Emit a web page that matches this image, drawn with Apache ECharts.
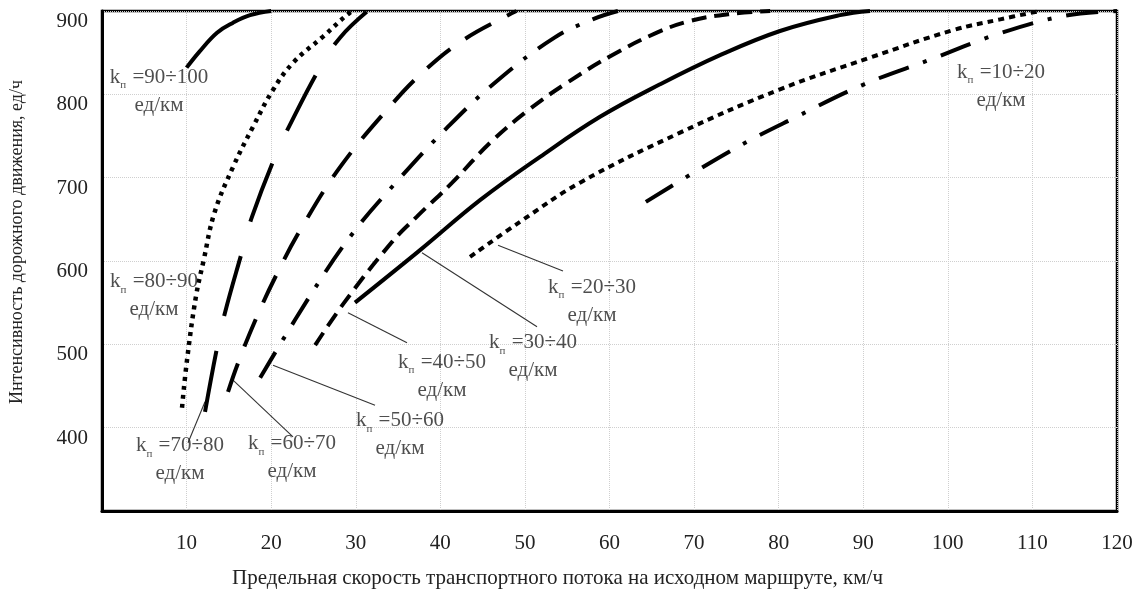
<!DOCTYPE html>
<html>
<head>
<meta charset="utf-8">
<script src="https://cdn.jsdelivr.net/npm/echarts@6/dist/echarts.min.js"></script>
<style>html,body{margin:0;padding:0;background:#fff}#c{width:1138px;height:596px}</style>
</head>
<body>
<div id="c"></div>
<script>
// ---- data (x: km/h, y: veh/h) ----
const xTicks = [10,20,30,40,50,60,70,80,90,100,110,120];
const yTicks = [400,500,600,700,800,900];
const k90_100 = [[10,832],[11.5,851],[13.6,874],[15.5,886],[17.5,895],[20,900]];
const k80_90  = [[9.46,424],[10.05,481],[11.1,557],[12.0,600],[13.3,658],[15.5,713],[17.85,761],[20.2,805],[22.6,838],[26.1,869],[29.3,898],[30,900]];
const k70_80  = [[12.18,419],[13.6,496],[14.54,538],[16.55,611],[17.73,653],[20.45,725],[22.2,763],[25.77,832],[28.14,868],[31.3,899]];
const k60_70  = [[14.9,443],[16.1,478],[18.3,533],[20.8,587],[23.6,640],[28.1,712],[34,785],[38.2,829],[42.7,865],[48,895],[49,900]];
const k50_60  = [[18.7,460],[24.9,563],[29.7,634],[35,697],[40.8,760],[46.8,817],[53.5,868],[58,890],[61,900]];
const k40_50  = [[25.2,499],[28.7,551],[34.3,623],[37.2,653],[41.4,694],[45.9,742],[50.4,781],[55,814],[60.3,847],[65.6,874],[69.5,888],[74,896],[79,900]];
const k30_40  = [[29.91,550],[37.6,613],[44.69,673],[51.79,725],[58.88,773],[65.97,812],[73.07,847],[80.16,876],[87.25,895],[90.8,900]];
const k20_30  = [[43.51,605],[49.42,647],[56.51,694],[68.34,754],[80.16,806],[90.8,844],[100.6,877],[106.2,890],[110.9,900]];
const k10_20  = [[64.3,671],[75,736],[82.3,774],[90.1,812],[98,842],[105.8,872],[113.7,894],[120,900]];

const seriesNames = ['90÷100','80÷90','70÷80','60÷70','50÷60','40÷50','30÷40','20÷30','10÷20'];

// annotation text anchors (data coords) and leader lines
const labelAnchors = [[6.74,804],[6.15,559],[9.22,362],[22.46,364],[35.23,392],[40.2,462],[50.96,485],[57.93,552],[106.3,810]];
const leaders = [
  [[12.18,431],[10.17,382]],
  [[15.49,457],[22.58,389]],
  [[20.22,475],[32.28,427]],
  [[29.08,538],[36.06,502]],
  [[37.83,610],[51.43,521]],
  [[46.82,619],[54.5,588]]
];

const FONT = '"Liberation Serif","DejaVu Serif",serif';
const curves = [
  {d:k90_100, type:'solid', w:4},
  {d:k80_90,  type:[4,5], w:4.5},
  {d:k70_80,  type:[62,36], w:4},
  {d:k60_70,  type:[30,18], w:4},
  {d:k50_60,  type:[30,14,4,14], w:4},
  {d:k40_50,  type:[15,8], w:4},
  {d:k30_40,  type:'solid', w:4},
  {d:k20_30,  type:[6,5], w:4},
  {d:k10_20,  type:[32,15,4,15], w:4}
];

const series = curves.map((c,i)=>({
  type:'line', name:seriesNames[i], data:c.d, smooth:0.4, symbol:'none', silent:true,
  lineStyle:{color:'#000', width:c.w, type:c.type}, z:3
}));
leaders.forEach(l=>series.push({
  type:'line', data:l, symbol:'none', silent:true,
  lineStyle:{color:'#333', width:1.1}, z:2
}));
series.push({
  type:'scatter', symbolSize:0, silent:true, z:4,
  data: labelAnchors.map((p,i)=>({value:p, name:seriesNames[i]})),
  label:{
    show:true, position:'inside', color:'#222', fontFamily:FONT, fontSize:21, lineHeight:28, align:'center',
    formatter: p => '{t|k}{s|п}{t| =' + p.name + '}\n{t|ед/км}',
    rich:{
      t:{fontFamily:FONT, fontSize:21, color:'#222', lineHeight:28},
      s:{fontFamily:FONT, fontSize:11, color:'#222', lineHeight:28, verticalAlign:'bottom', padding:[0,1,0,0]}
    }
  }
});

const chart = echarts.init(document.getElementById('c'), null, {renderer:'canvas'});
chart.setOption({
  animation:false,
  backgroundColor:'#fff',
  grid:{left:102, right:21, top:11, bottom:85, show:true, borderColor:'#000', borderWidth:2.5, backgroundColor:'transparent'},
  xAxis:{
    type:'value', min:0, max:120, interval:10,
    name:'Предельная скорость транспортного потока на исходном маршруте, км/ч',
    nameLocation:'middle', nameGap:57,
    nameTextStyle:{fontFamily:FONT, fontSize:21, color:'#222', padding:[0,104,0,0]},
    axisLine:{show:true, lineStyle:{color:'#000', width:3}},
    axisTick:{show:false},
    axisLabel:{showMinLabel:false, fontFamily:FONT, fontSize:21, color:'#222', margin:22,
      formatter: v => xTicks.includes(v) ? String(v) : ''},
    splitLine:{show:true, lineStyle:{color:'#cfcfcf', type:'dotted', width:1}}
  },
  yAxis:{
    type:'value', min:300, max:900, interval:100,
    name:'Интенсивность дорожного движения, ед/ч',
    nameLocation:'middle', nameGap:76,
    nameTextStyle:{fontFamily:FONT, fontSize:18, color:'#222', padding:[0,0,0,38]},
    axisLine:{show:true, lineStyle:{color:'#000', width:3}},
    axisTick:{show:false},
    axisLabel:{showMinLabel:false, fontFamily:FONT, fontSize:21, color:'#222', margin:14,
      verticalAlign:'top',
      formatter: v => yTicks.includes(v) ? String(v) : ''},
    splitLine:{show:true, lineStyle:{color:'#cfcfcf', type:'dotted', width:1}}
  },
  series: series
});
</script>
</body>
</html>
